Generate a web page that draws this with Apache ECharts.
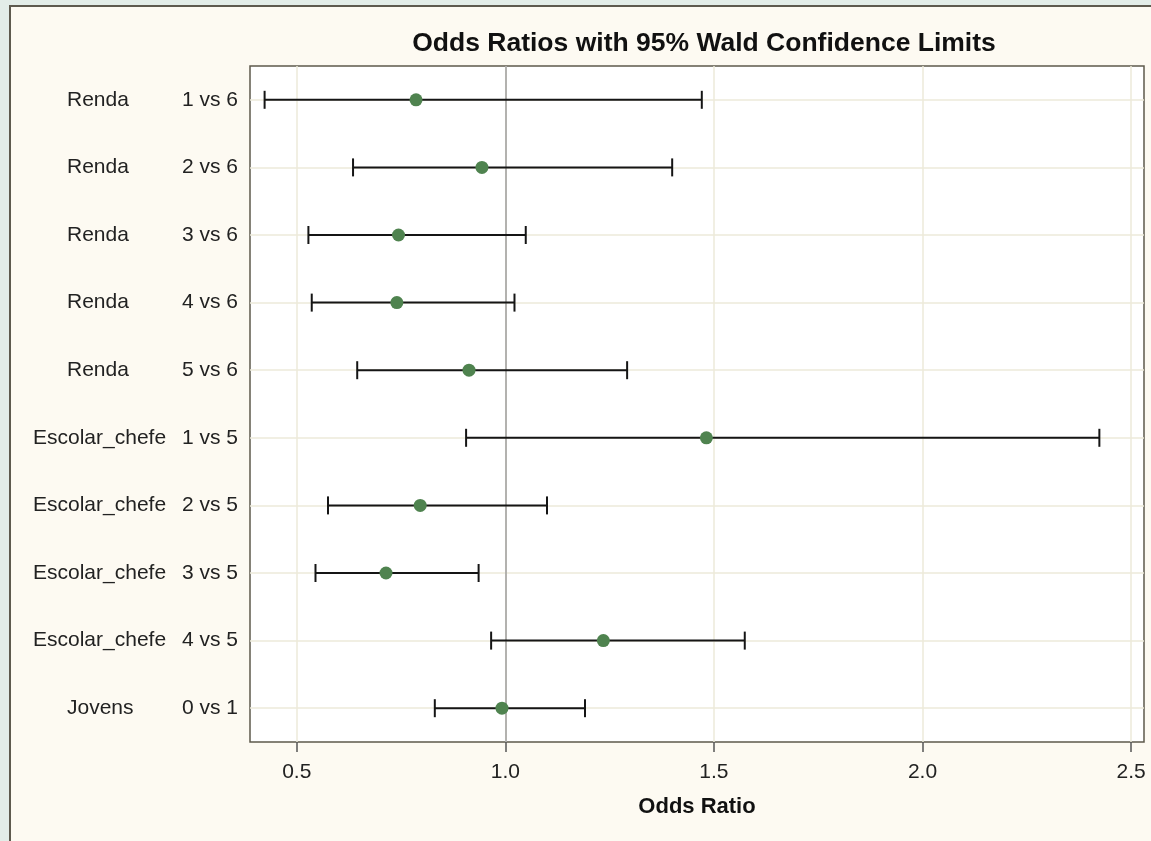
<!DOCTYPE html>
<html>
<head>
<meta charset="utf-8">
<script src="https://cdn.jsdelivr.net/npm/echarts@6/dist/echarts.min.js"></script>
<style>
  html, body { margin: 0; padding: 0; width: 1151px; height: 841px; overflow: hidden; background: #E3EDE8; }
  #frame { position: absolute; left: 9px; top: 5px; width: 1200px; height: 900px; background: #FDFAF2; border-left: 2px solid #5E5A4E; border-top: 2px solid #5E5A4E; }
  #chart { position: absolute; left: 0; top: 0; width: 1151px; height: 841px; }
</style>
</head>
<body>
<div id="frame"></div>
<div id="chart"></div>
<script>
// ---- data ----
const variables = ['Renda', 'Renda', 'Renda', 'Renda', 'Renda',
                   'Escolar_chefe', 'Escolar_chefe', 'Escolar_chefe', 'Escolar_chefe', 'Jovens'];
const levels = ['1 vs 6', '2 vs 6', '3 vs 6', '4 vs 6', '5 vs 6',
                '1 vs 5', '2 vs 5', '3 vs 5', '4 vs 5', '0 vs 1'];
const oddsRatio = [0.786, 0.944, 0.744, 0.740, 0.913, 1.482, 0.796, 0.714, 1.235, 0.992];
const lowerCL   = [0.423, 0.635, 0.528, 0.536, 0.645, 0.906, 0.575, 0.545, 0.966, 0.831];
const upperCL   = [1.471, 1.400, 1.049, 1.022, 1.292, 2.424, 1.100, 0.936, 1.574, 1.191];
const xTicks = [0.5, 1.0, 1.5, 2.0, 2.5];
const referenceValue = 1;
const titleText = 'Odds Ratios with 95% Wald Confidence Limits';
const xAxisTitle = 'Odds Ratio';

const categories = variables.map((v, i) => v + ' ' + levels[i]);

const chart = echarts.init(document.getElementById('chart'), null, { renderer: 'canvas' });
const FONT = 'Liberation Sans, Arial, sans-serif';

const option = {
  backgroundColor: 'transparent',
  animation: false,
  title: {
    text: titleText,
    left: 699,
    top: 25,
    textAlign: 'center',
    textStyle: { fontFamily: FONT, fontSize: 26.5, fontWeight: 'bold', color: '#111' }
  },
  grid: {
    left: 250, top: 66, right: 7, bottom: 99,
    show: true, backgroundColor: '#FFFFFF', borderColor: '#5E5A4C', borderWidth: 1.5,
    containLabel: false
  },
  xAxis: {
    type: 'value',
    min: 0.388, max: 2.531,
    splitNumber: 5,
    axisLine: { show: false },
    axisTick: { show: true, customValues: xTicks, length: 10, lineStyle: { color: '#555', width: 1.5 } },
    axisLabel: { customValues: xTicks, margin: 20, fontFamily: FONT, fontSize: 21, color: '#222',
                 formatter: v => v.toFixed(1) },
    splitLine: { show: true, lineStyle: { color: '#EDEADA', width: 1.5 } },
    name: xAxisTitle,
    nameLocation: 'middle',
    nameGap: 54,
    nameTextStyle: { fontFamily: FONT, fontSize: 22, fontWeight: 'bold', color: '#111' }
  },
  yAxis: {
    type: 'category',
    inverse: true,
    data: categories,
    axisLine: { show: false },
    axisTick: { show: false, alignWithLabel: true },
    splitLine: { show: true, alignWithLabel: true, lineStyle: { color: '#EDEADA', width: 1.5 } },
    axisLabel: {
      margin: 12,
      formatter: (value, index) => {
        const key = variables[index] === 'Escolar_chefe' ? 'a' : 'a2';
        return '{' + key + '|' + variables[index] + '}{b|' + levels[index] + '}';
      },
      rich: {
        a:  { width: 149, align: 'left', fontFamily: FONT, fontSize: 21, color: '#222' },
        a2: { width: 115, align: 'left', padding: [0, 0, 0, 34], fontFamily: FONT, fontSize: 21, color: '#222' },
        b:  { width: 56, align: 'left', fontFamily: FONT, fontSize: 21, color: '#222' }
      }
    }
  },
  series: [
    {
      type: 'custom',
      name: 'CL',
      z: 3,
      encode: { x: [0, 1], y: 2 },
      data: lowerCL.map((l, i) => [l, upperCL[i], i]),
      renderItem: (params, api) => {
        const y = api.value(2);
        const p1 = api.coord([api.value(0), y]);
        const p2 = api.coord([api.value(1), y]);
        const h = 9;
        const st = { stroke: '#151515', lineWidth: 2 };
        return {
          type: 'group',
          children: [
            { type: 'line', shape: { x1: p1[0], y1: p1[1], x2: p2[0], y2: p2[1] }, style: st },
            { type: 'line', shape: { x1: p1[0], y1: p1[1] - h, x2: p1[0], y2: p1[1] + h }, style: st },
            { type: 'line', shape: { x1: p2[0], y1: p2[1] - h, x2: p2[0], y2: p2[1] + h }, style: st }
          ]
        };
      }
    },
    {
      type: 'scatter',
      name: 'Odds Ratio',
      z: 4,
      symbol: 'circle',
      symbolSize: 13,
      itemStyle: { color: '#4F834F', opacity: 1 },
      data: oddsRatio.map((v, i) => [v, i]),
      markLine: {
        silent: true,
        z: 2,
        symbol: ['none', 'none'],
        label: { show: false },
        lineStyle: { color: '#9E9E9E', width: 1.5, type: 'solid' },
        data: [{ xAxis: referenceValue }]
      }
    }
  ]
};
chart.setOption(option);
</script>
</body>
</html>
